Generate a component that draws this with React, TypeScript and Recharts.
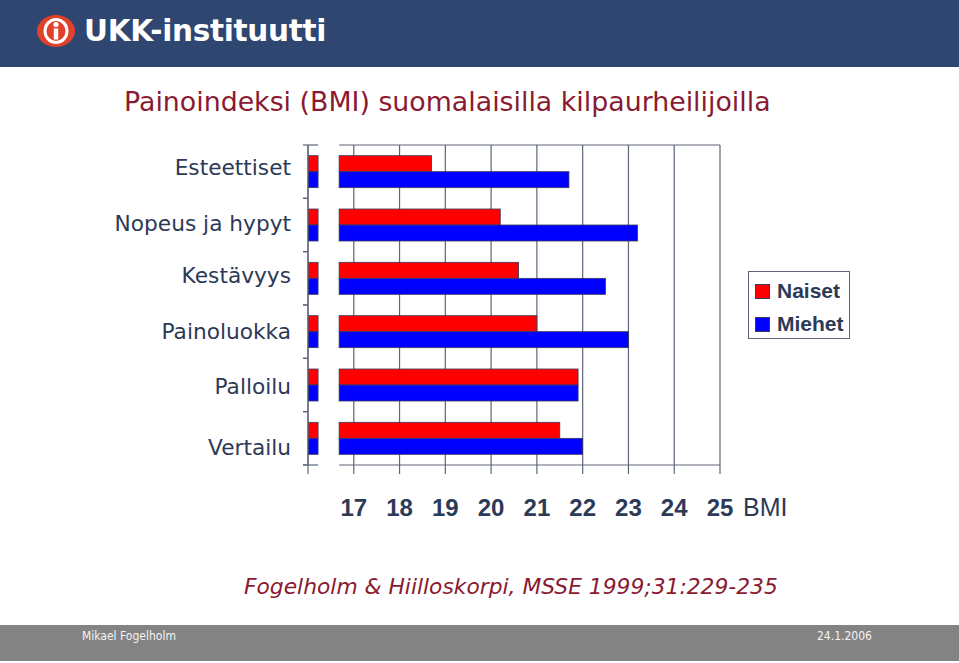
import React from 'react';
import { BarChart, Bar, XAxis, YAxis, CartesianGrid, Legend } from 'recharts';

// ---- data ----
const categories = ['Esteettiset', 'Nopeus ja hypyt', 'Kestävyys', 'Painoluokka', 'Palloilu', 'Vertailu'];
const naiset = [18.7, 20.2, 20.6, 21.0, 21.9, 21.5];
const miehet = [21.7, 23.2, 22.5, 23.0, 21.9, 22.0];
const bmiTicks = [16, 17, 18, 19, 20, 21, 22, 23, 24, 25];
const axisBreak = [16.22, 16.68];
const seriesNames = ['Naiset', 'Miehet'];

const data = categories.map((c, i) => ({ category: c, naiset: naiset[i], miehet: miehet[i] }));

// ---- layout / style ----
const W = 959;
const H = 663;
const TOP = 145;
const PLOT_LEFT = 308;
const PLOT_RIGHT = 720;
const PLOT_BOTTOM = 465;
const XAXIS_H = 60;
const PLOT_W = PLOT_RIGHT - PLOT_LEFT;
const PLOT_H = PLOT_BOTTOM - TOP;
const DMIN = bmiTicks[0];
const DMAX = bmiTicks[bmiTicks.length - 1];
const AXIS = '#5d6678';
const TEXT = '#2c3a57';
const RED = '#ff0000';
const BLUE = '#0000ff';
const BAR_STROKE = '#3a3a5c';
const LABEL_NUDGE = [-4, -2, -3, 0, 1, 9];

const makeBrokenBar = (key: string) => (props: any) => {
  const { x, y, width, height, fill, payload } = props;
  const v = payload[key];
  const u = width / (v - DMIN);
  const s = x + u * (axisBreak[0] - DMIN);
  const e = x + u * (axisBreak[1] - DMIN);
  return (
    <g>
      <rect x={x} y={y} width={s - x} height={height} fill={fill} stroke={BAR_STROKE} strokeWidth={0.8} />
      <rect x={e} y={y} width={x + width - e} height={height} fill={fill} stroke={BAR_STROKE} strokeWidth={0.8} />
    </g>
  );
};

const XTick = (props: any) => {
  const { x, y, payload } = props;
  const v = payload.value;
  const u = PLOT_W / (DMAX - DMIN);
  const s = x + u * (axisBreak[0] - DMIN);
  const e = x + u * (axisBreak[1] - DMIN);
  const r = x + u * (DMAX - DMIN);
  return (
    <g>
      <line x1={x} x2={x} y1={y} y2={y + 9} stroke={AXIS} strokeWidth={1.2} />
      {v > DMIN && (
        <text x={x} y={y + 51} textAnchor="middle" fontFamily="'Liberation Sans', Arial, sans-serif" fontWeight="bold" fontSize={24} fill={TEXT}>
          {v}
        </text>
      )}
      {v === DMAX && (
        <text x={x + 23} y={y + 51} textAnchor="start" fontFamily="'Liberation Sans', Arial, sans-serif" fontSize={25} fill={TEXT}>
          BMI
        </text>
      )}
      {v === DMIN && (
        <g stroke={AXIS} strokeWidth={1.2}>
          <line x1={x - 5} x2={s} y1={y} y2={y} />
          <line x1={e} x2={r} y1={y} y2={y} />
          <line x1={x} x2={s} y1={y - PLOT_H} y2={y - PLOT_H} />
          <line x1={e} x2={r} y1={y - PLOT_H} y2={y - PLOT_H} />
        </g>
      )}
    </g>
  );
};

const YTick = (props: any) => {
  const { x, y, payload, index } = props;
  const half = PLOT_H / categories.length / 2;
  const ax = x + 17;
  return (
    <g>
      <line x1={ax - 5} x2={ax} y1={y - half} y2={y - half} stroke={AXIS} strokeWidth={1.2} />
      <line x1={ax - 5} x2={ax} y1={y + half} y2={y + half} stroke={AXIS} strokeWidth={1.2} />
      <text
        x={x}
        y={y + (LABEL_NUDGE[index] || 0)}
        textAnchor="end"
        dominantBaseline="central"
        fontFamily="'DejaVu Sans', Verdana, sans-serif"
        fontSize={21.7}
        fill={TEXT}
      >
        {payload.value}
      </text>
    </g>
  );
};

const LegendBox = (props: any) => {
  const payload = [...(props.payload || [])].sort(
    (a: any, b: any) => seriesNames.indexOf(a.value) - seriesNames.indexOf(b.value)
  );
  return (
    <div
      style={{
        width: 102,
        height: 68,
        boxSizing: 'border-box',
        border: `1.5px solid ${AXIS}`,
        background: '#fff',
        position: 'relative',
      }}
    >
      {payload.map((p: any, i: number) => (
        <div
          key={p.value}
          style={{ position: 'absolute', left: 6, top: 6 + i * 33, height: 26, display: 'flex', alignItems: 'center' }}
        >
          <span
            style={{
              display: 'inline-block',
              width: 13,
              height: 13,
              background: p.color,
              border: `1px solid ${BAR_STROKE}`,
              marginRight: 7,
            }}
          />
          <span style={{ fontFamily: "'Liberation Sans', Arial, sans-serif", fontWeight: 'bold', fontSize: 21, color: TEXT, lineHeight: '26px' }}>
            {p.value}
          </span>
        </div>
      ))}
    </div>
  );
};

const Logo = () => (
  <svg width={44} height={40} style={{ position: 'absolute', left: 35, top: 12 }}>
    <ellipse cx={21} cy={19} rx={19} ry={16} fill="#e0412a" />
    <ellipse cx={21} cy={19} rx={11} ry={11.5} fill="none" stroke="#fff" strokeWidth={3} />
    <circle cx={21} cy={12.5} r={2.6} fill="#fff" />
    <rect x={18.8} y={16.5} width={4.4} height={11} fill="#fff" />
  </svg>
);

export default function App() {
  return (
    <div style={{ position: 'absolute', left: 0, top: 0, width: W, height: H, background: '#fff', overflow: 'hidden' }}>
      {/* header */}
      <div style={{ position: 'absolute', left: 0, top: 0, width: W, height: 67, background: '#2e4670' }}>
        <Logo />
        <div
          style={{
            position: 'absolute',
            left: 84,
            top: 13,
            fontFamily: "'DejaVu Sans', sans-serif",
            fontWeight: 'bold',
            fontSize: 29.5,
            lineHeight: '36px',
            color: '#fff',
            letterSpacing: -0.3,
          }}
        >
          UKK-instituutti
        </div>
      </div>

      {/* title */}
      <div
        style={{
          position: 'absolute',
          left: 124,
          top: 89,
          fontFamily: "'DejaVu Sans', Verdana, sans-serif",
          fontSize: 26.8,
          lineHeight: '26px',
          color: '#8a1a30',
          whiteSpace: 'nowrap',
        }}
      >
        Painoindeksi (BMI) suomalaisilla kilpaurheilijoilla
      </div>

      <div style={{ position: 'absolute', left: 0, top: 0 }}>
        <BarChart
          width={W}
          height={H}
          data={data}
          layout="vertical"
          margin={{ top: TOP, right: W - PLOT_RIGHT, bottom: H - PLOT_BOTTOM - XAXIS_H, left: 0 }}
          barCategoryGap="20%"
          barGap={0}
        >
          <CartesianGrid horizontal={false} vertical={true} stroke={AXIS} strokeWidth={1.2} strokeDasharray="" />
          <XAxis
            type="number"
            domain={[DMIN, DMAX]}
            ticks={bmiTicks}
            interval={0}
            height={XAXIS_H}
            axisLine={false}
            tickLine={false}
            tickSize={0}
            tickMargin={0}
            tick={<XTick />}
            allowDataOverflow
          />
          <YAxis
            type="category"
            dataKey="category"
            width={PLOT_LEFT}
            interval={0}
            axisLine={{ stroke: AXIS, strokeWidth: 1.2 }}
            tickLine={false}
            tickSize={0}
            tickMargin={17}
            tick={<YTick />}
          />
          <Legend
            layout="vertical"
            align="center"
            verticalAlign="middle"
            content={<LegendBox />}
            wrapperStyle={{ left: 748, top: 271, width: 102, height: 68 }}
          />
          <Bar dataKey="naiset" name={seriesNames[0]} fill={RED} isAnimationActive={false} shape={makeBrokenBar('naiset')} />
          <Bar dataKey="miehet" name={seriesNames[1]} fill={BLUE} isAnimationActive={false} shape={makeBrokenBar('miehet')} />
        </BarChart>
      </div>

      {/* citation */}
      <div
        style={{
          position: 'absolute',
          left: 244,
          top: 576,
          fontFamily: "'DejaVu Sans', Verdana, sans-serif",
          fontStyle: 'italic',
          fontSize: 21.8,
          lineHeight: '22px',
          color: '#8a1a30',
          whiteSpace: 'nowrap',
        }}
      >
        Fogelholm &amp; Hiilloskorpi, MSSE 1999;31:229-235
      </div>

      {/* footer */}
      <div style={{ position: 'absolute', left: 0, top: 625, width: W, height: 36, background: '#838383' }}>
        <div style={{ position: 'absolute', left: 82, top: 4, fontFamily: "'DejaVu Sans Condensed', 'DejaVu Sans', sans-serif", fontSize: 12, color: '#f4f4f4' }}>
          Mikael Fogelholm
        </div>
        <div style={{ position: 'absolute', left: 817, top: 4, fontFamily: "'DejaVu Sans Condensed', 'DejaVu Sans', sans-serif", fontSize: 12, color: '#f4f4f4' }}>
          24.1.2006
        </div>
      </div>
    </div>
  );
}
